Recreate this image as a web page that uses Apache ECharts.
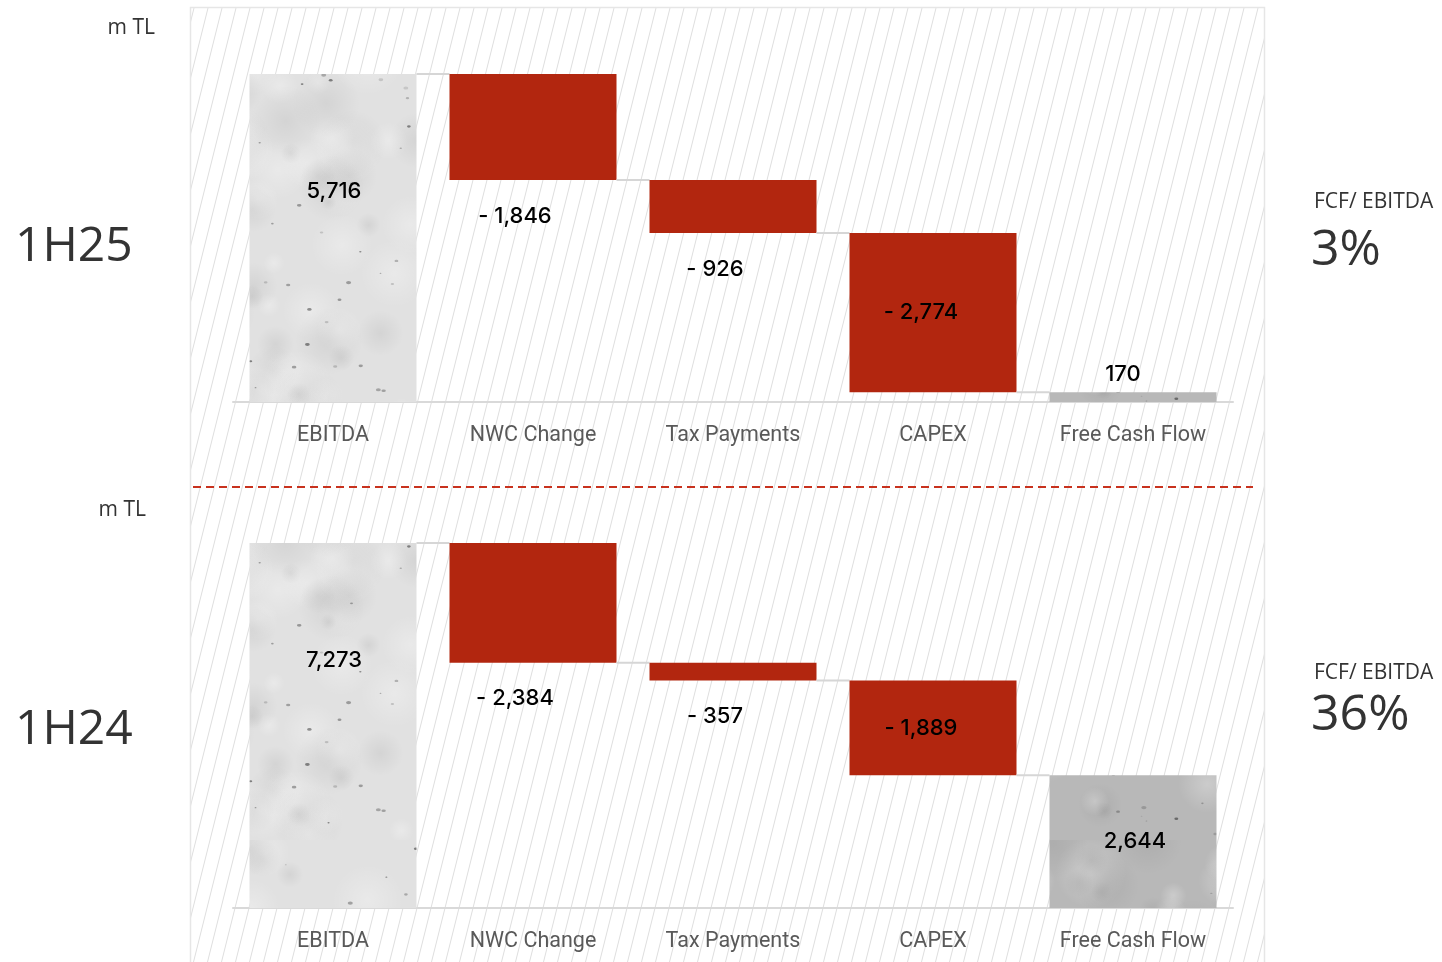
<!DOCTYPE html>
<html>
<head>
<meta charset="utf-8">
<script src="https://cdn.jsdelivr.net/npm/echarts@6/dist/echarts.min.js"></script>
<style>
html,body{margin:0;padding:0;background:#fff;}
#main{width:1442px;height:962px;}
</style>
</head>
<body>
<div id="main"></div>
<script>
// ---- data ----
const categories = ['EBITDA', 'NWC Change', 'Tax Payments', 'CAPEX', 'Free Cash Flow'];
const periods = ['1H25', '1H24'];
const values1H25 = [5716, -1846, -926, -2774, 170];
const values1H24 = [7273, -2384, -357, -1889, 2644];
const fcfToEbitda = ['3%', '36%'];
const unitLabel = 'm TL';
const ratioTitle = 'FCF/ EBITDA';

// ---- styles ----
const RED = '#B2260F';
const LABEL_PLACE = ['insideTop', 'below', 'below', 'inside', 'auto'];

function hash(n) { const s = Math.sin(n * 12.9898 + 78.233) * 43758.5453; return s - Math.floor(s); }

function makeTexture(base, seed, speck) {
  const S = 420;
  const c = document.createElement('canvas');
  c.width = S; c.height = S;
  const g = c.getContext('2d');
  g.fillStyle = base; g.fillRect(0, 0, S, S);
  for (let k = 0; k < 120; k++) {
    const x = hash(seed + k * 3.1) * S, y = hash(seed + k * 7.7) * S;
    const r = 8 + hash(seed + k * 1.3) * 28;
    const light = hash(seed + k * 5.3) > 0.45;
    const grad = g.createRadialGradient(x, y, 0, x, y, r);
    grad.addColorStop(0, light ? 'rgba(255,255,255,0.28)' : 'rgba(0,0,0,0.06)');
    grad.addColorStop(1, light ? 'rgba(255,255,255,0)' : 'rgba(0,0,0,0)');
    g.fillStyle = grad;
    g.fillRect(x - r, y - r, 2 * r, 2 * r);
  }
  for (let k = 0; k < speck; k++) {
    const x = 3 + hash(seed + k * 11.3) * (S - 6), y = 3 + hash(seed + k * 13.9) * (S - 6);
    const r = 0.5 + hash(seed + k * 17.1) * 1.2;
    g.fillStyle = '#3a3a3a';
    g.globalAlpha = 0.15 + hash(seed + k * 19.7) * 0.5;
    g.beginPath(); g.ellipse(x, y, r * 1.6, r, 0, 0, Math.PI * 2); g.fill();
  }
  g.globalAlpha = 1;
  return c;
}
const texLight = makeTexture('#e1e1e1', 1, 90);
const texDark = makeTexture('#b8b8b8', 2, 90);

function makeHatch() {
  const w = 14, h = 56;
  const c = document.createElement('canvas');
  c.width = w; c.height = h;
  const g = c.getContext('2d');
  g.strokeStyle = '#dedede'; g.lineWidth = 1;
  for (let dx = -w; dx <= w; dx += w) {
    g.beginPath(); g.moveTo(dx - w, h * 2); g.lineTo(dx + 2 * w, -h); g.stroke();
  }
  return c;
}
const hatch = makeHatch();

function fmt(v) {
  const a = Math.abs(v).toLocaleString('en-US');
  return v < 0 ? '- ' + a : a;
}

function buildWaterfall(vals) {
  const out = [];
  let run = 0;
  vals.forEach((v, i) => {
    if (i === 0) { out.push([i, 0, v, v, 0]); run = v; }
    else if (i === vals.length - 1) { out.push([i, 0, v, v, 2]); }
    else { out.push([i, run, run + v, v, 1]); run += v; }
  });
  return out;
}

function renderItem(params, api) {
  const i = api.value(0), s = api.value(1), e = api.value(2), v = api.value(3), kind = api.value(4);
  const band = api.size([1, 0])[0];
  const w = band * 0.835;
  const pS = api.coord([i, s]), pE = api.coord([i, e]);
  const cx = pS[0];
  const yTop = Math.min(pS[1], pE[1]), yBot = Math.max(pS[1], pE[1]);
  const h = yBot - yTop;
  const children = [];
  children.push({
    type: 'rect',
    shape: { x: cx - w / 2, y: yTop, width: w, height: h },
    style: { fill: kind === 1 ? RED : (kind === 0 ? { image: texLight, repeat: 'repeat' } : { image: texDark, repeat: 'repeat' }) }
  });
  if (i < categories.length - 1) {
    const ly = pE[1];
    children.push({
      type: 'line',
      shape: { x1: cx + w / 2, y1: ly, x2: cx + band - w / 2, y2: ly },
      style: { stroke: '#d6d6d6', lineWidth: 2 }
    });
  }
  const place = LABEL_PLACE[i];
  let tx = cx, ty;
  if (place === 'insideTop') { ty = yTop + 117; tx = cx + 1; }
  else if (place === 'below') { ty = yBot + 36; tx = cx - 18; }
  else if (place === 'inside') { ty = (yTop + yBot) / 2; tx = cx - 12; }
  else { ty = h > 30 ? (yTop + yBot) / 2 : yTop - 18; tx = h > 30 ? cx + 2 : cx - 10; }
  children.push({
    type: 'text',
    style: {
      text: fmt(v), x: tx, y: ty, align: 'center', verticalAlign: 'middle',
      textAlign: 'center', textVerticalAlign: 'middle',
      fill: '#000', fontSize: 22, fontWeight: 500, fontFamily: 'Inter, Roboto, sans-serif'
    }
  });
  return { type: 'group', children: children };
}

const allVals = [values1H25, values1H24];
const grids = [
  { left: 233, width: 1000, top: 74, height: 328 },
  { left: 233, width: 1000, top: 543, height: 365 }
];

const chart = echarts.init(document.getElementById('main'));

const xAxes = grids.map((g, k) => ({
  type: 'category', gridIndex: k, data: categories,
  axisLine: { lineStyle: { color: '#d9d9d9', width: 2 } },
  axisTick: { show: false },
  axisLabel: { color: '#595959', fontSize: 21.5, fontFamily: 'Roboto, sans-serif', margin: 23, interval: 0 }
}));
const yAxes = grids.map((g, k) => ({
  type: 'value', gridIndex: k, min: 0, max: allVals[k][0], show: false, splitLine: { show: false }
}));
const series = grids.map((g, k) => ({
  type: 'custom', xAxisIndex: k, yAxisIndex: k,
  renderItem: renderItem, data: buildWaterfall(allVals[k]), z: 3, silent: true
}));

const sideText = (text, x, y, size, align) => ({
  type: 'text', z: 5,
  style: { text: text, x: x, y: y, align: align || 'left', verticalAlign: 'middle', fill: '#333', fontSize: size, fontFamily: '"Open Sans", sans-serif' }
});

chart.setOption({
  animation: false,
  grid: grids,
  xAxis: xAxes,
  yAxis: yAxes,
  series: series,
  graphic: [
    { type: 'rect', z: -10, shape: { x: 190.5, y: 7.5, width: 1074, height: 980 },
      style: { fill: { image: hatch, repeat: 'repeat' }, stroke: '#e6e6e6', lineWidth: 1.5 } },
    { type: 'line', z: 5, shape: { x1: 193, y1: 487, x2: 1253, y2: 487 },
      style: { stroke: '#C8321E', lineWidth: 2, lineDash: [8, 5] } },
    sideText(unitLabel, 155, 28, 21, 'right'),
    sideText(periods[0], 15, 247, 48),
    sideText(ratioTitle, 1314, 202, 21),
    sideText(fcfToEbitda[0], 1311, 251, 50),
    sideText(unitLabel, 146, 510, 21, 'right'),
    sideText(periods[1], 15, 730, 48),
    sideText(ratioTitle, 1314, 673, 21),
    sideText(fcfToEbitda[1], 1311, 716, 50)
  ]
});
</script>
</body>
</html>
